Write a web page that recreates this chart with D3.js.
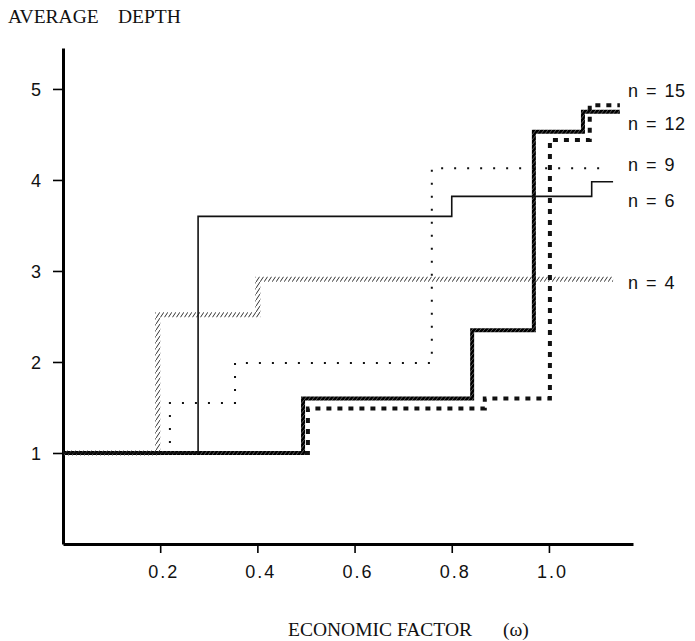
<!DOCTYPE html>
<html>
<head>
<meta charset="utf-8">
<script src="https://cdn.jsdelivr.net/npm/d3@7"></script>
<style>
  html, body { margin: 0; padding: 0; background: #fff; }
  svg { display: block; }
</style>
</head>
<body>
<script>
// ---- data ----
const seriesNames = ["n = 4", "n = 6", "n = 9", "n = 12", "n = 15"];
const xN4  = [0, 0.195, 0.401, 1.132];
const yN4  = [1, 2.52, 2.91, 2.91];
const xN6  = [0, 0.278, 0.80, 1.088, 1.132];
const yN6  = [1, 3.60, 3.82, 3.98, 3.98];
const xN9  = [0, 0.22, 0.354, 0.759, 1.121];
const yN9  = [1, 1.55, 1.99, 4.13, 4.13];
const xN12 = [0, 0.494, 0.842, 0.969, 1.07, 1.146];
const yN12 = [1, 1.60, 2.35, 4.53, 4.75, 4.75];
const xN15 = [0, 0.504, 0.868, 1.002, 1.084, 1.146];
const yN15 = [1, 1.49, 1.60, 4.44, 4.82, 4.82];
const xTicks = [0.2, 0.4, 0.6, 0.8, 1.0];
const yTicks = [1, 2, 3, 4, 5];
// label anchor value for each series label (y position in data units)
const labelY = [2.87, 3.77, 4.17, 4.62, 4.98];

const W = 695, H = 641;
const svg = d3.select("body").append("svg").attr("width", W).attr("height", H);

const x = d3.scaleLinear().domain([0, 1.173]).range([63, 633]);
const y = d3.scaleLinear().domain([0, 5.45]).range([544, 48]);

// patterns
const defs = svg.append("defs");
const hatchGray = defs.append("pattern").attr("id", "hatchGray")
  .attr("patternUnits", "userSpaceOnUse").attr("width", 4).attr("height", 6);
hatchGray.append("line").attr("x1", 0).attr("y1", 6).attr("x2", 4).attr("y2", 0)
  .attr("stroke", "#333").attr("stroke-width", 1);
const hatchDark = defs.append("pattern").attr("id", "hatchDark")
  .attr("patternUnits", "userSpaceOnUse").attr("width", 4).attr("height", 5);
hatchDark.append("rect").attr("width", 4).attr("height", 5).attr("fill", "#000");
hatchDark.append("line").attr("x1", 0).attr("y1", 5).attr("x2", 4).attr("y2", 0)
  .attr("stroke", "#fff").attr("stroke-width", 0.35);

// axes
const yAxis = d3.axisLeft(y).tickValues(yTicks).tickSize(10).tickSizeOuter(0)
  .tickFormat(d3.format("d")).tickPadding(12);
const xAxis = d3.axisBottom(x).tickValues(xTicks).tickSize(9).tickSizeOuter(0)
  .tickFormat(d3.format(".1f")).tickPadding(12);

const gy = svg.append("g").attr("transform", "translate(63,0)").call(yAxis);
const gx = svg.append("g").attr("transform", "translate(0,544)").call(xAxis);
[gx, gy].forEach(g => {
  g.select(".domain").attr("stroke", "#000").attr("stroke-width", 3);
  g.selectAll(".tick line").attr("stroke", "#000").attr("stroke-width", 1.6);
  g.selectAll(".tick text").attr("fill", "#111")
    .attr("font-family", "'Liberation Sans', Arial, sans-serif").attr("font-size", 18);
});
gx.selectAll(".tick text").attr("letter-spacing", "2px").attr("dx", 3);
gy.selectAll(".tick text").attr("dy", "0.35em");

// step lines
const line = d3.line().x(d => x(d[0])).y(d => y(d[1])).curve(d3.curveStepAfter);
const zip = (xs, ys) => xs.map((v, i) => [v, ys[i]]);

const series = [
  { name: "n = 4",  pts: zip(xN4, yN4),   stroke: "url(#hatchGray)", width: 5,   dash: null },
  { name: "n = 15", pts: zip(xN15, yN15), stroke: "#111",            width: 4,   dash: "5,6" },
  { name: "n = 12", pts: zip(xN12, yN12), stroke: "url(#hatchDark)", width: 4,   dash: null },
  { name: "n = 9",  pts: zip(xN9, yN9),   stroke: "#111",            width: 2,   dash: "2,11" },
  { name: "n = 6",  pts: zip(xN6, yN6),   stroke: "#111",            width: 1.6, dash: null }
];
svg.append("g").selectAll("path").data(series).join("path")
  .attr("d", d => line(d.pts))
  .attr("fill", "none")
  .attr("stroke", d => d.stroke)
  .attr("stroke-width", d => d.width)
  .attr("stroke-dasharray", d => d.dash)
  .attr("stroke-linejoin", "miter")
  .attr("stroke-linecap", "butt");

// series labels
svg.append("g").selectAll("text").data(seriesNames).join("text")
  .attr("x", 628)
  .attr("y", (d, i) => y(labelY[i]))
  .attr("dy", "0.35em")
  .attr("font-family", "'Liberation Sans', Arial, sans-serif")
  .attr("font-size", 18)
  .attr("letter-spacing", "0.5px")
  .attr("word-spacing", "2px")
  .attr("fill", "#111")
  .text(d => d);

// axis titles
const serif = "'Liberation Serif', 'Times New Roman', serif";
svg.append("text").attr("x", 8).attr("y", 23).attr("font-family", serif)
  .attr("font-size", 19.5).attr("fill", "#111").text("AVERAGE");
svg.append("text").attr("x", 118).attr("y", 23).attr("font-family", serif)
  .attr("font-size", 19.5).attr("fill", "#111").text("DEPTH");
svg.append("text").attr("x", 288).attr("y", 636).attr("font-family", serif)
  .attr("font-size", 19.5).attr("fill", "#111").text("ECONOMIC FACTOR");
svg.append("text").attr("x", 503).attr("y", 636).attr("font-family", serif)
  .attr("font-size", 19.5).attr("fill", "#111").text("(ω)");
</script>
</body>
</html>
